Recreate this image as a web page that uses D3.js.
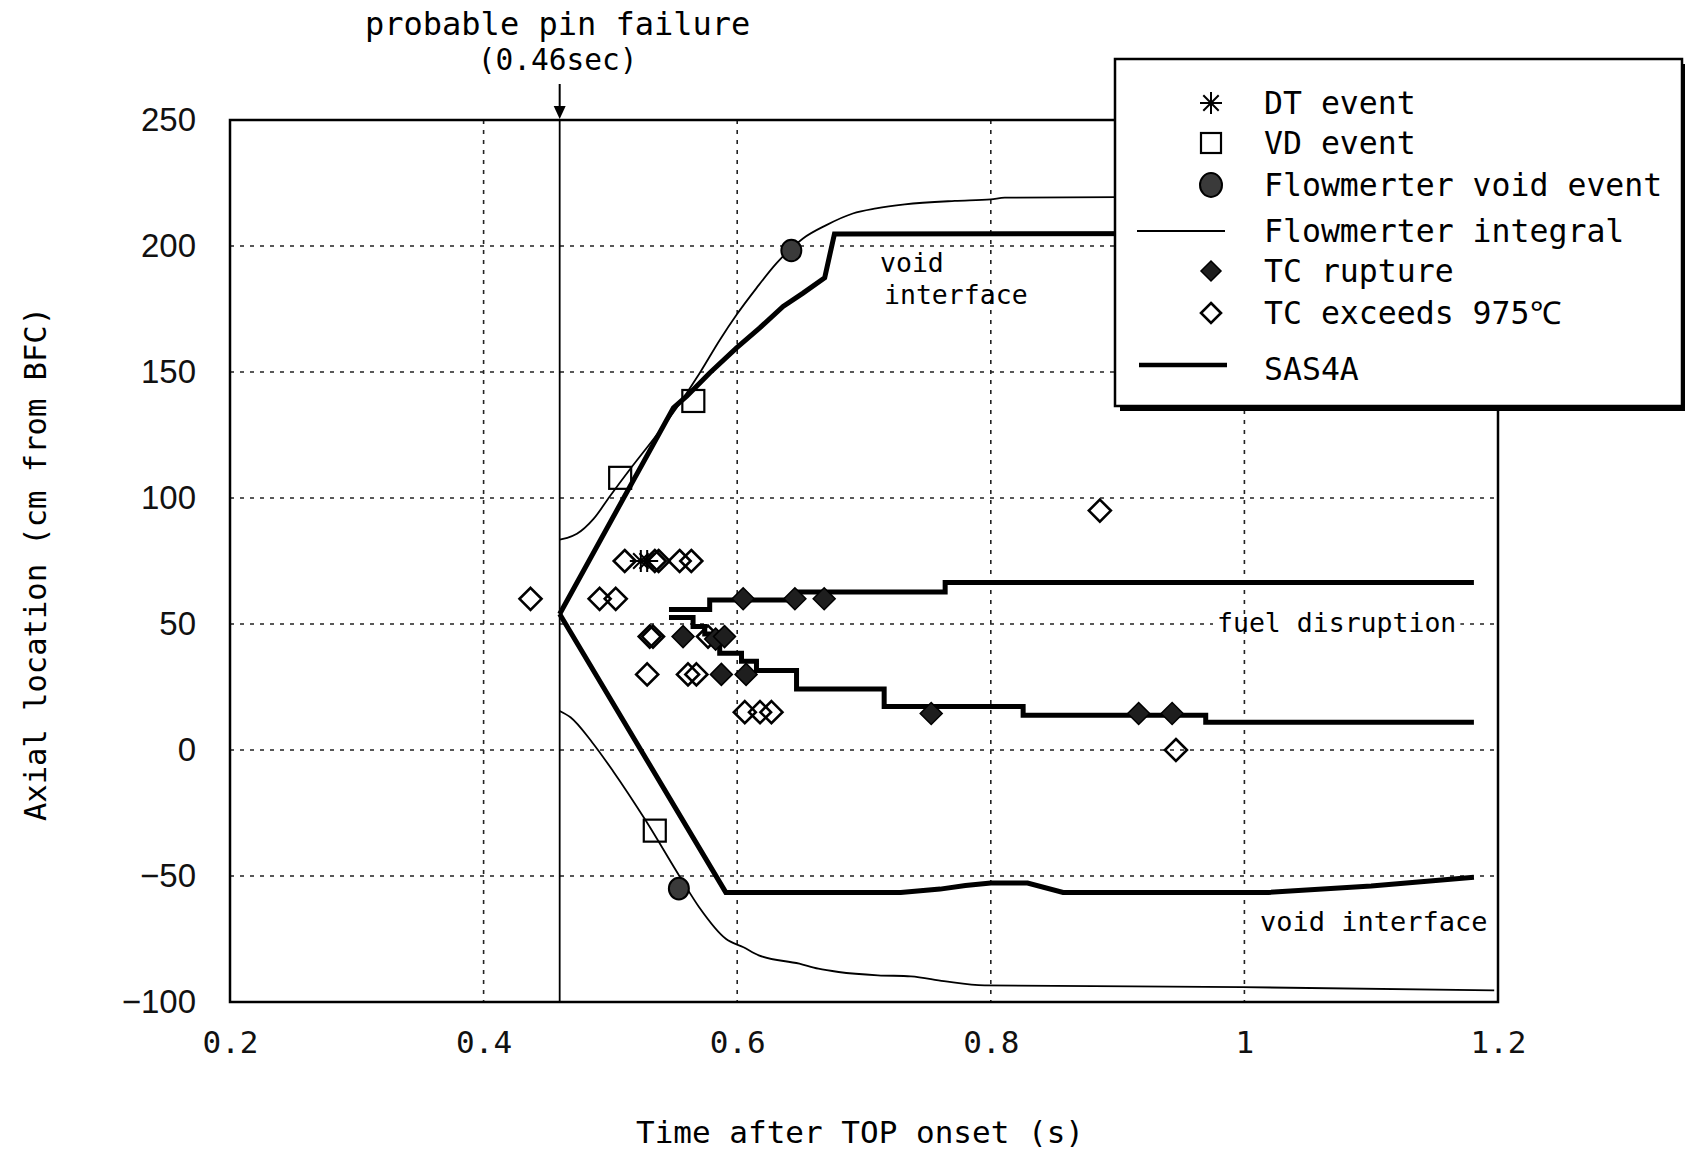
<!DOCTYPE html>
<html>
<head>
<meta charset="utf-8">
<script src="https://cdn.jsdelivr.net/npm/d3@7"></script>
<style>
  body { margin: 0; background: #fff; }
  svg { display: block; }
</style>
</head>
<body>
<svg id="chart"></svg>
<script>
const width = 1685;
const height = 1154;
const svg = d3.select("svg#chart").attr("width", width).attr("height", height);

const mono = "'DejaVu Sans Mono', monospace";
const sans = "'Liberation Sans', Arial, sans-serif";

// ticks
const xTicks = [0.2, 0.4, 0.6, 0.8, 1, 1.2];
const yTicks = [-100, -50, 0, 50, 100, 150, 200, 250];
const pinFailureTime = 0.46;

// flowmeter integral (thin lines)
const flowUpperT = [0.46, 0.466, 0.4736, 0.4867, 0.4999, 0.5156, 0.5339, 0.5523, 0.5706, 0.5864, 0.5995, 0.6152, 0.6309, 0.6427, 0.6519, 0.6703, 0.6912, 0.7096, 0.7322, 0.7716, 0.8, 0.811, 0.9, 1.18];
const flowUpperY = [83.5, 84.2, 85.8, 91.7, 100.9, 111.5, 123.3, 135.8, 149.7, 162.8, 172.7, 183.3, 193.1, 199.1, 203, 208.3, 212.9, 214.9, 216.5, 217.9, 218.5, 219.2, 219.4, 220];
const flowLowerT = [0.46, 0.4685, 0.4857, 0.502, 0.528, 0.555, 0.570, 0.591, 0.605, 0.617, 0.649, 0.664, 0.680, 0.711, 0.737, 0.763, 0.795, 0.998, 1.197];
const flowLowerY = [15.5, 13, 3, -8.3, -28.1, -50.5, -62.4, -74.9, -78.3, -81.5, -84.8, -86.8, -88.1, -89.4, -89.8, -91.7, -93.4, -94.1, -95.4];

// SAS4A (thick lines)
const sasUpperT = [0.46, 0.5497, 0.5602, 0.5785, 0.5995, 0.6178, 0.6362, 0.6519, 0.669, 0.6767, 1.18];
const sasUpperY = [54, 135.8, 140.4, 149.7, 159.6, 167.5, 176, 181.3, 187.4, 204.8, 205];
const sasLowerT = [0.46, 0.591, 0.729, 0.76, 0.78, 0.80, 0.829, 0.857, 1.019, 1.1, 1.181];
const sasLowerY = [54, -56.5, -56.5, -55.2, -53.8, -52.8, -52.8, -56.5, -56.5, -54, -50.5];
const fuelUpperT = [0.5462, 0.5783, 0.648, 0.764, 1.181];
const fuelUpperY = [55.8, 59.5, 62.7, 66.5, 66.5];
const fuelLowerT = [0.5462, 0.5652, 0.5744, 0.583, 0.5862, 0.6034, 0.6152, 0.6468, 0.7159, 0.8255, 0.9695, 1.181];
const fuelLowerY = [52.6, 49, 46, 43, 38.4, 35.2, 31.5, 24.2, 17.3, 13.8, 11, 11];

// events
const tcExceedsT = [0.437, 0.4915, 0.5042, 0.5113, 0.535, 0.538, 0.5546, 0.5638, 0.531, 0.5336, 0.577, 0.529, 0.5612, 0.5678, 0.606, 0.618, 0.627, 0.886, 0.946];
const tcExceedsY = [60, 60, 60, 75, 75, 75, 75, 75, 45, 45, 45, 30, 30, 30, 15, 15, 15, 95, 0];
const tcRuptureT = [0.5573, 0.583, 0.590, 0.5875, 0.607, 0.6047, 0.6455, 0.6686, 0.753, 0.9166, 0.943];
const tcRuptureY = [45, 44, 45, 30, 30, 60, 60, 60, 14.5, 14.5, 14.5];
const dtEventT = [0.524, 0.529];
const dtEventY = [75, 75];
const vdEventT = [0.5077, 0.5654, 0.535];
const vdEventY = [108, 138.5, -32];
const flowVoidT = [0.6427, 0.554];
const flowVoidY = [198.2, -55];

const legendLabels = ["DT event", "VD event", "Flowmerter void event", "Flowmerter integral", "TC rupture", "TC exceeds 975\u2103", "SAS4A"];

const pts = (ts, ys) => ts.map((t, i) => [t, ys[i]]);

// scales
const x = d3.scaleLinear().domain([0.2, 1.2]).range([230, 1498]);
const y = d3.scaleLinear().domain([-100, 250]).range([1002, 120]);
const x0 = x.range()[0], x1 = x.range()[1], y0 = y.range()[1], y1 = y.range()[0];

svg.append("defs").append("clipPath").attr("id", "plotClip")
  .append("rect").attr("x", x0).attr("y", y0).attr("width", x1 - x0).attr("height", y1 - y0);

// grid
const grid = svg.append("g").attr("id", "grid")
  .attr("stroke", "#222").attr("stroke-width", 1.6).attr("stroke-dasharray", "4,6");
grid.selectAll("line.h").data(yTicks.slice(1, -1)).enter().append("line")
  .attr("x1", x0).attr("x2", x1).attr("y1", d => y(d)).attr("y2", d => y(d));
grid.selectAll("line.v").data(xTicks.slice(1, -1)).enter().append("line")
  .attr("y1", y0).attr("y2", y1).attr("x1", d => x(d)).attr("x2", d => x(d));

// pin failure line
svg.append("line")
  .attr("x1", x(pinFailureTime)).attr("x2", x(pinFailureTime))
  .attr("y1", y0).attr("y2", y1)
  .attr("stroke", "#000").attr("stroke-width", 1.8);

// curves
const plot = svg.append("g").attr("clip-path", "url(#plotClip)");
const line = d3.line().x(d => x(d[0])).y(d => y(d[1]));
const smooth = d3.line().x(d => x(d[0])).y(d => y(d[1])).curve(d3.curveMonotoneX);
const step = d3.line().x(d => x(d[0])).y(d => y(d[1])).curve(d3.curveStepAfter);

plot.append("path").attr("d", smooth(pts(flowUpperT, flowUpperY)))
  .attr("fill", "none").attr("stroke", "#000").attr("stroke-width", 1.8);
plot.append("path").attr("d", smooth(pts(flowLowerT, flowLowerY)))
  .attr("fill", "none").attr("stroke", "#000").attr("stroke-width", 1.8);

[[sasUpperT, sasUpperY, line], [sasLowerT, sasLowerY, line],
 [fuelUpperT, fuelUpperY, step], [fuelLowerT, fuelLowerY, step]].forEach(([ts, ys, gen]) => {
  plot.append("path").attr("d", gen(pts(ts, ys)))
    .attr("fill", "none").attr("stroke", "#000").attr("stroke-width", 5)
    .attr("stroke-linejoin", "miter");
});

// marker helpers
function diamond(g, r, filled) {
  g.append("path").attr("d", `M0,${-r}L${r},0L0,${r}L${-r},0Z`)
    .attr("fill", filled ? "#1e1e1e" : "#fff").attr("fill-opacity", filled ? 1 : 0)
    .attr("stroke", "#000").attr("stroke-width", filled ? 1.5 : 2.6);
}
function square(g, r) {
  g.append("rect").attr("x", -r).attr("y", -r).attr("width", 2 * r).attr("height", 2 * r)
    .attr("fill", "none").attr("stroke", "#000").attr("stroke-width", 2.2);
}
function asterisk(g, r) {
  const k = r * 0.7;
  g.append("path")
    .attr("d", `M0,${-r}L0,${r}M${-r},0L${r},0M${-k},${-k}L${k},${k}M${-k},${k}L${k},${-k}`)
    .attr("stroke", "#000").attr("stroke-width", 2);
}
function circle(g, r) {
  g.append("ellipse").attr("rx", r).attr("ry", r * 1.08)
    .attr("fill", "#3a3a3a").attr("stroke", "#000").attr("stroke-width", 2);
}

const marks = svg.append("g").attr("id", "marks");
function drawSet(ts, ys, fn) {
  marks.selectAll(null).data(pts(ts, ys)).enter().append("g")
    .attr("transform", d => `translate(${x(d[0])},${y(d[1])})`)
    .each(function() { fn(d3.select(this)); });
}
drawSet(tcExceedsT, tcExceedsY, g => diamond(g, 11, false));
drawSet(tcRuptureT, tcRuptureY, g => diamond(g, 11, true));
drawSet(dtEventT, dtEventY, g => asterisk(g, 11));
drawSet(vdEventT, vdEventY, g => square(g, 11));
drawSet(flowVoidT, flowVoidY, g => circle(g, 10));

// frame
svg.append("rect").attr("x", x0).attr("y", y0).attr("width", x1 - x0).attr("height", y1 - y0)
  .attr("fill", "none").attr("stroke", "#000").attr("stroke-width", 2.5);

// axes (labels only)
const yAxis = svg.append("g").attr("transform", `translate(${x0 - 34},0)`)
  .call(d3.axisLeft(y).tickValues(yTicks).tickSize(0).tickPadding(0));
yAxis.select(".domain").remove();
yAxis.selectAll("text").attr("font-family", sans).attr("font-size", 33).attr("fill", "#111");

const xAxis = svg.append("g").attr("transform", `translate(0,${y1 + 29})`)
  .call(d3.axisBottom(x).tickValues(xTicks).tickFormat(d3.format("~g")).tickSize(0).tickPadding(0));
xAxis.select(".domain").remove();
xAxis.selectAll("text").attr("font-family", mono).attr("font-size", 31).attr("fill", "#111");

// axis titles
svg.append("text").attr("x", (x0 + x1) / 2 - 4).attr("y", 1143)
  .attr("text-anchor", "middle").attr("font-family", mono).attr("font-size", 31)
  .text("Time after TOP onset (s)");
svg.append("text").attr("transform", `translate(46,${(y0 + y1) / 2 + 3}) rotate(-90)`)
  .attr("text-anchor", "middle").attr("font-family", mono).attr("font-size", 30.5)
  .text("Axial location (cm from BFC)");

// annotations
const px = x(pinFailureTime);
svg.append("text").attr("x", px - 2).attr("y", 35).attr("text-anchor", "middle")
  .attr("font-family", mono).attr("font-size", 32).text("probable pin failure");
svg.append("text").attr("x", px - 2).attr("y", 70).attr("text-anchor", "middle")
  .attr("font-family", mono).attr("font-size", 29.5).text("(0.46sec)");
svg.append("line").attr("x1", px).attr("x2", px).attr("y1", 84).attr("y2", 112)
  .attr("stroke", "#000").attr("stroke-width", 2);
svg.append("path").attr("d", `M${px - 6},${y0 - 14}L${px},${y0 - 1}L${px + 6},${y0 - 14}Z`)
  .attr("fill", "#000");

svg.append("text").attr("x", 880).attr("y", 272).attr("font-family", mono).attr("font-size", 26.5).text("void");
svg.append("text").attr("x", 884).attr("y", 304).attr("font-family", mono).attr("font-size", 26.5).text("interface");

const fd = svg.append("g");
const fdText = fd.append("text").attr("x", 1217).attr("y", 632).attr("font-family", mono)
  .attr("font-size", 26.5).text("fuel disruption");
const bb = fdText.node().getBBox();
fd.insert("rect", "text").attr("x", bb.x - 4).attr("y", y(50) - 3).attr("width", bb.width + 8).attr("height", 6)
  .attr("fill", "#fff");

svg.append("text").attr("x", 1260).attr("y", 931).attr("font-family", mono).attr("font-size", 27)
  .text("void interface");

// legend
const lg = svg.append("g").attr("id", "legend");
lg.append("rect").attr("x", 1120).attr("y", 64).attr("width", 567).attr("height", 347).attr("fill", "#000");
lg.append("rect").attr("x", 1115).attr("y", 59).attr("width", 567).attr("height", 347)
  .attr("fill", "#fff").attr("stroke", "#000").attr("stroke-width", 2.5);

const legendRowY = [103, 143, 185, 231, 271, 313, 365];
const legendSym = [
  g => asterisk(g, 11),
  g => square(g, 10),
  g => circle(g, 11),
  g => g.append("line").attr("x1", -74).attr("x2", 14).attr("stroke", "#000").attr("stroke-width", 1.8),
  g => diamond(g, 10, true),
  g => diamond(g, 10, false),
  g => g.append("line").attr("x1", -72).attr("x2", 16).attr("stroke", "#000").attr("stroke-width", 4.5)
];
legendLabels.forEach((lab, i) => {
  const g = lg.append("g").attr("transform", `translate(1211,${legendRowY[i]})`);
  legendSym[i](g);
  lg.append("text").attr("x", 1264).attr("y", legendRowY[i] + 11 + (i === 6 ? 4 : 0))
    .attr("font-family", mono).attr("font-size", 31.5).attr("fill", "#000").text(lab);
});
</script>
</body>
</html>
